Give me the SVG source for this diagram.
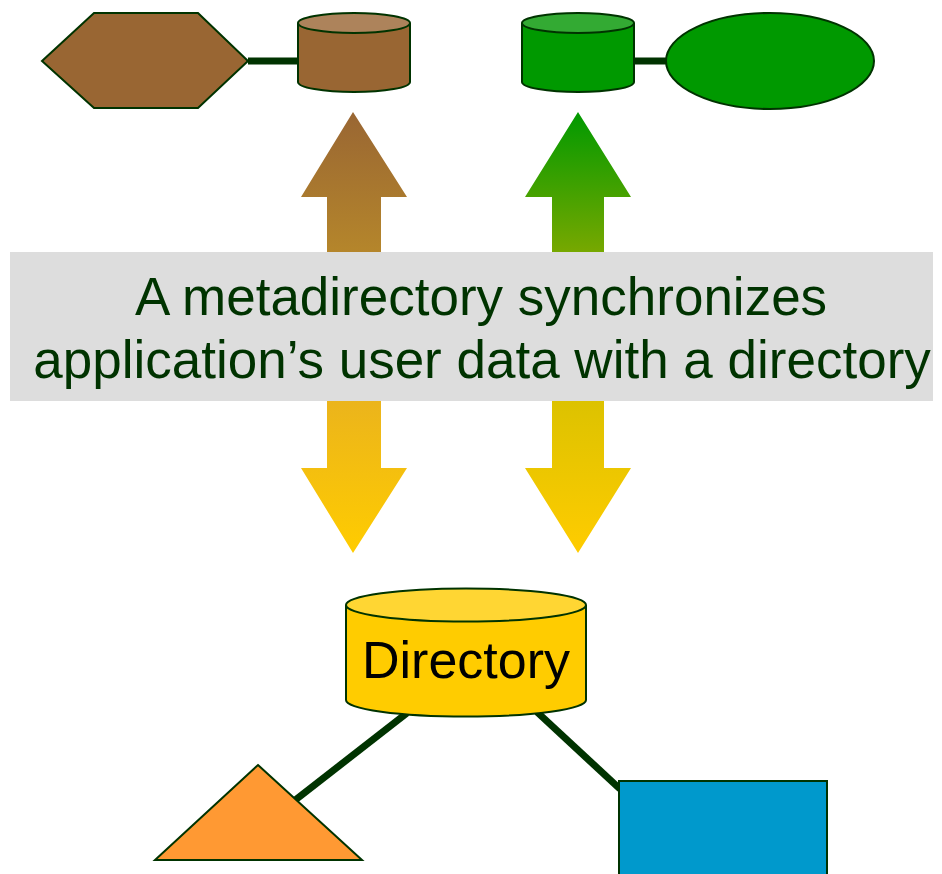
<svg xmlns="http://www.w3.org/2000/svg" width="942" height="874" viewBox="0 0 942 874">
<defs>
<linearGradient id="gBrown" gradientUnits="userSpaceOnUse" x1="0" y1="112" x2="0" y2="553">
<stop offset="0" stop-color="#996633"/>
<stop offset="0.32" stop-color="#b5862b"/>
<stop offset="0.65" stop-color="#ebb41c"/>
<stop offset="1" stop-color="#ffcc00"/>
</linearGradient>
<linearGradient id="gGreen" gradientUnits="userSpaceOnUse" x1="0" y1="112" x2="0" y2="553">
<stop offset="0" stop-color="#009900"/>
<stop offset="0.32" stop-color="#78a800"/>
<stop offset="0.65" stop-color="#dcc200"/>
<stop offset="1" stop-color="#ffcc00"/>
</linearGradient>
</defs>
<style>
.sh{stroke:#003300;stroke-width:2}
.conn{stroke:#003300;stroke-width:7;fill:none}
.lbl{font-family:"Liberation Sans",Arial,sans-serif;text-anchor:middle}
</style>
<rect width="942" height="874" fill="#ffffff"/>
<g id="connectors">
<line class="conn" x1="248" y1="61" x2="298" y2="61"/>
<line class="conn" x1="634" y1="61" x2="667" y2="61"/>
<line class="conn" x1="407" y1="713" x2="294" y2="801"/>
<line class="conn" x1="537" y1="712" x2="620" y2="789"/>
</g>
<g id="arrow-brown">
<polygon points="353,112 407,197 381,197 381,468 407,468 353,553 301,468 327,468 327,197 301,197" fill="url(#gBrown)"/>
</g>
<g id="arrow-green">
<polygon points="578,112 631,197 604,197 604,468 631,468 578,553 525,468 552,468 552,197 525,197" fill="url(#gGreen)"/>
</g>
<g id="hexagon">
<polygon class="sh" points="42,61 94,13 198,13 248,61 198,108 94,108" fill="#996633"/>
</g>
<g id="cyl-brown">
<path class="sh" d="M298,23 V82 A56,10 0 0 0 410,82 V23" fill="#996633"/>
<ellipse class="sh" cx="354" cy="23" rx="56" ry="10" fill="#ad835b"/>
</g>
<g id="cyl-green">
<path class="sh" d="M522,23 V82 A56,10 0 0 0 634,82 V23" fill="#009900"/>
<ellipse class="sh" cx="578" cy="23" rx="56" ry="10" fill="#33aa33"/>
</g>
<g id="ellipse-green">
<ellipse class="sh" cx="770" cy="61" rx="104" ry="48" fill="#009900"/>
</g>
<g id="caption">
<rect x="10" y="252" width="923" height="149" fill="#dddddd"/>
<text class="lbl" x="481" y="315" font-size="53" fill="#003300">A metadirectory synchronizes</text>
<text class="lbl" x="482" y="378" font-size="53" fill="#003300">application’s user data with a directory</text>
</g>
<g id="directory">
<path class="sh" d="M346,605 V700 A120,16.5 0 0 0 586,700 V605" fill="#ffcc00"/>
<ellipse class="sh" cx="466" cy="605" rx="120" ry="16.5" fill="#ffd633"/>
<text class="lbl" x="466" y="678" font-size="52" fill="#000000">Directory</text>
</g>
<g id="triangle">
<polygon class="sh" points="258,765 362,860 155,860" fill="#ff9933"/>
</g>
<g id="rectangle">
<rect class="sh" x="619" y="781" width="208" height="100" fill="#0099cc"/>
</g>
</svg>
